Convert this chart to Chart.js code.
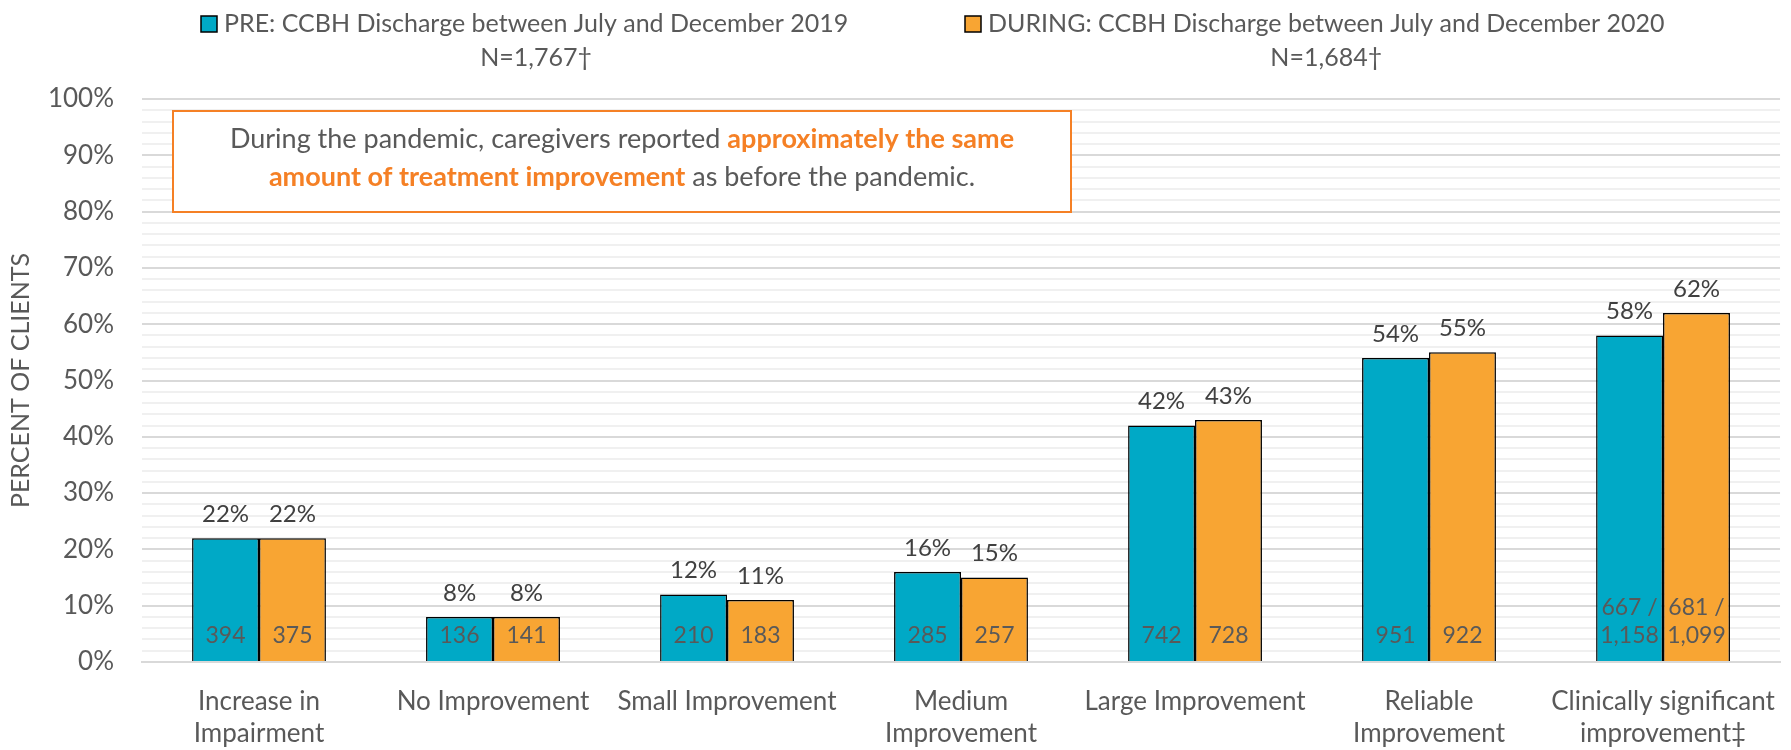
<!DOCTYPE html>
<html>
<head>
<meta charset="utf-8">
<script src="https://cdn.jsdelivr.net/npm/chart.js@4"></script>
<style>
  body { margin: 0; background: #fff; }
  #wrap { width: 1791px; height: 750px; position: relative; }
</style>
</head>
<body>
<div id="wrap"><canvas id="outcomeBars"></canvas></div>
<script>
const categories = [
  ["Increase in", "Impairment"],
  "No Improvement",
  "Small Improvement",
  ["Medium", "Improvement"],
  "Large Improvement",
  ["Reliable", "Improvement"],
  ["Clinically significant", "improvement‡"],
];
const preLabel = "PRE: CCBH Discharge between July and December 2019";
const duringLabel = "DURING: CCBH Discharge between July and December 2020";
const preN = "N=1,767†";
const duringN = "N=1,684†";
const prePct = [22, 8, 12, 16, 42, 54, 58];
const duringPct = [22, 8, 11, 15, 43, 55, 62];
const preCounts = ["394", "136", "210", "285", "742", "951", "667 /\n1,158"];
const duringCounts = ["375", "141", "183", "257", "728", "922", "681 /\n1,099"];

const FONT = "Lato, 'Open Sans', sans-serif";
const TEAL = "#00A9C6";
const ORANGE = "#F8A533";
const CALLOUT = "#F58025";
const GREY = "#595959";

// percent above each bar, count near the bottom inside it
const barLabels = {
  id: "barLabels",
  afterDatasetsDraw(chart) {
    const ctx = chart.ctx;
    const base = chart.scales.y.getPixelForValue(0);
    chart.data.datasets.forEach((ds, i) => {
      const meta = chart.getDatasetMeta(i);
      meta.data.forEach((bar, j) => {
        ctx.save();
        ctx.textAlign = "center";
        ctx.textBaseline = "middle";
        ctx.fillStyle = "#404040";
        ctx.font = "24px " + FONT;
        ctx.fillText(ds.data[j] + "%", bar.x, bar.y - 24);
        ctx.fillStyle = GREY;
        ctx.font = "23px " + FONT;
        const lines = ds.counts[j].split("\n");
        lines.forEach((ln, k) => {
          ctx.fillText(ln, bar.x, base - 26 - (lines.length - 1 - k) * 28);
        });
        ctx.restore();
      });
    });
  },
};

// two-line legend and the callout box
const extras = {
  id: "extras",
  afterDraw(chart) {
    const ctx = chart.ctx;
    ctx.save();
    ctx.font = "25px " + FONT;
    ctx.textBaseline = "middle";
    const items = [
      { x: 201, color: TEAL, text: preLabel, n: preN },
      { x: 965, color: ORANGE, text: duringLabel, n: duringN },
    ];
    items.forEach((it) => {
      ctx.fillStyle = it.color;
      ctx.fillRect(it.x, 16, 16, 16);
      ctx.strokeStyle = "#000";
      ctx.lineWidth = 1.5;
      ctx.strokeRect(it.x, 16, 16, 16);
      ctx.fillStyle = GREY;
      ctx.textAlign = "left";
      ctx.fillText(it.text, it.x + 23, 24);
      const w = ctx.measureText(it.text).width;
      ctx.textAlign = "center";
      ctx.fillText(it.n, it.x + 23 + w / 2, 58);
    });

    // callout
    const bx = 173, by = 111, bw = 898, bh = 101;
    ctx.fillStyle = "#fff";
    ctx.fillRect(bx, by, bw, bh);
    ctx.strokeStyle = CALLOUT;
    ctx.lineWidth = 2;
    ctx.strokeRect(bx, by, bw, bh);
    const lines = [
      [["During the pandemic, caregivers reported ", false], ["approximately the same", true]],
      [["amount of treatment improvement", true], [" as before the pandemic.", false]],
    ];
    const cx = bx + bw / 2;
    ctx.textAlign = "left";
    lines.forEach((parts, li) => {
      let total = 0;
      parts.forEach(([t, b]) => {
        ctx.font = (b ? "bold " : "") + "27px " + FONT;
        total += ctx.measureText(t).width;
      });
      let x = cx - total / 2;
      const y = 139 + li * 38;
      parts.forEach(([t, b]) => {
        ctx.font = (b ? "bold " : "") + "27px " + FONT;
        ctx.fillStyle = b ? CALLOUT : GREY;
        ctx.fillText(t, x, y);
        x += ctx.measureText(t).width;
      });
    });
    ctx.restore();
  },
};

const outcomeChart = new Chart(document.getElementById("outcomeBars"), {
  type: "bar",
  data: {
    labels: categories,
    datasets: [
      {
        label: preLabel,
        data: prePct,
        counts: preCounts,
        backgroundColor: TEAL,
        borderColor: "#000",
        borderWidth: 1.5,
        categoryPercentage: 0.572,
        barPercentage: 1.0,
      },
      {
        label: duringLabel,
        data: duringPct,
        counts: duringCounts,
        backgroundColor: ORANGE,
        borderColor: "#000",
        borderWidth: 1.5,
        categoryPercentage: 0.572,
        barPercentage: 1.0,
      },
    ],
  },
  options: {
    responsive: true,
    maintainAspectRatio: false,
    animation: false,
    layout: { padding: { top: 99, right: 1, left: 0, bottom: 0 } },
    plugins: {
      legend: { display: false },
      tooltip: { enabled: false },
    },
    scales: {
      x: {
        grid: { display: false },
        border: { color: "#D9D9D9", width: 2 },
        ticks: {
          color: GREY,
          font: { family: FONT, size: 26, lineHeight: 1.23 },
          padding: 16,
          maxRotation: 0,
          autoSkip: false,
        },
        afterFit(scale) {
          scale.height = 88;
        },
      },
      y: {
        min: 0,
        max: 100,
        border: { display: false },
        grid: {
          drawTicks: false,
          lineWidth: 2,
          color: (c) => (c.tick.value % 10 === 0 ? "#D9D9D9" : "#F0F0F0"),
        },
        ticks: {
          stepSize: 2,
          autoSkip: false,
          color: GREY,
          padding: 28,
          font: { family: FONT, size: 26 },
          callback: (v) => (v % 10 === 0 ? v + "%" : ""),
        },
        title: {
          display: true,
          text: "PERCENT OF CLIENTS",
          color: GREY,
          font: { family: FONT, size: 25 },
          padding: { top: 6, bottom: 0 },
        },
        afterFit(scale) {
          scale.width = 142;
        },
      },
    },
  },
  plugins: [barLabels, extras],
});
</script>
</body>
</html>
